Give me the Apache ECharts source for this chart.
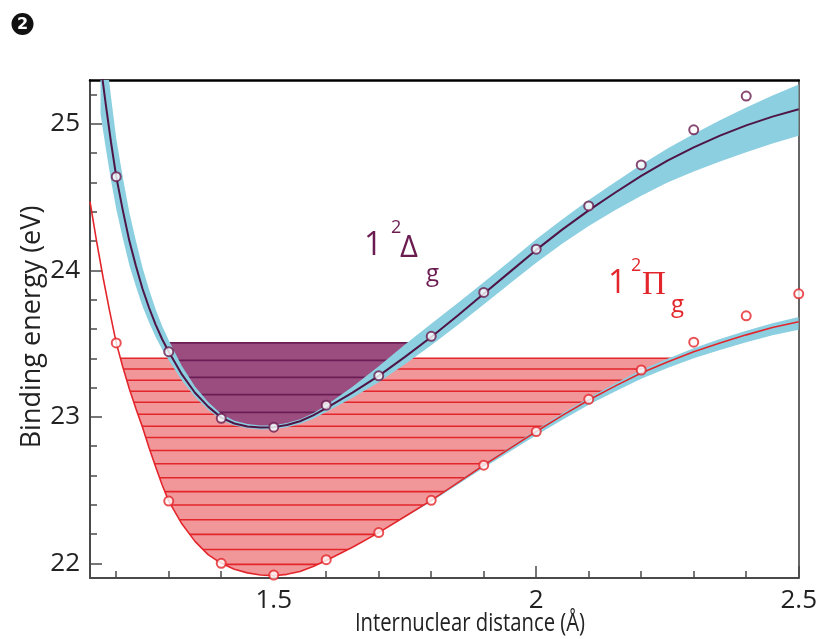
<!DOCTYPE html>
<html><head><meta charset="utf-8">
<script src="https://cdn.jsdelivr.net/npm/echarts@6/dist/echarts.min.js"></script>
<style>html,body{margin:0;padding:0;background:#fff}#c{width:820px;height:639px}</style>
</head><body><div id="c"></div>
<script>
// ---- axis ticks / labels ----
const xTickLabels = [1.5, 2, 2.5];
const xMinorTicks = [1.2, 1.3, 1.4, 1.6, 1.7, 1.8, 1.9, 2.1, 2.2, 2.3, 2.4];
const yTickLabels = [22, 23, 24, 25];
const yMinorTicks = [22.2, 22.4, 22.6, 22.8, 23.2, 23.4, 23.6, 23.8, 24.2, 24.4, 24.6, 24.8, 25.2];

// ---- computed points (open circles) ----
const deltaPointX = [1.2, 1.3, 1.4, 1.5, 1.6, 1.7, 1.8, 1.9, 2.0, 2.1, 2.2, 2.3, 2.4];
const deltaPointY = [24.64, 23.445, 22.99, 22.93, 23.08, 23.28, 23.55, 23.85, 24.145, 24.44, 24.72, 24.96, 25.19];
const piPointX = [1.2, 1.3, 1.4, 1.5, 1.6, 1.7, 1.8, 1.9, 2.0, 2.1, 2.2, 2.3, 2.4, 2.5];
const piPointY = [23.505, 22.425, 22.0, 21.92, 22.025, 22.21, 22.43, 22.67, 22.90, 23.12, 23.32, 23.51, 23.69, 23.84];

// ---- fitted curves ----
const deltaCurveX = [1.17, 1.18, 1.19, 1.2, 1.2125, 1.225, 1.2375, 1.25, 1.2625, 1.275, 1.2875, 1.3, 1.325, 1.35, 1.375, 1.4, 1.425, 1.45, 1.475, 1.5, 1.525, 1.55, 1.575, 1.6, 1.65, 1.7, 1.75, 1.8, 1.85, 1.9, 1.95, 2.0, 2.05, 2.1, 2.15, 2.2, 2.25, 2.3, 2.35, 2.4, 2.45, 2.5];
const deltaCurveY = [25.41, 25.135, 24.875, 24.64, 24.41, 24.20, 24.03, 23.875, 23.745, 23.63, 23.53, 23.445, 23.29, 23.165, 23.07, 22.995, 22.955, 22.935, 22.927, 22.93, 22.945, 22.97, 23.01, 23.06, 23.165, 23.28, 23.41, 23.545, 23.69, 23.84, 23.99, 24.14, 24.28, 24.41, 24.53, 24.645, 24.75, 24.84, 24.92, 24.99, 25.05, 25.10];
const deltaBandUp = [0.42, 0.36, 0.31, 0.26, 0.225, 0.195, 0.17, 0.145, 0.125, 0.105, 0.09, 0.078, 0.058, 0.042, 0.032, 0.024, 0.019, 0.016, 0.014, 0.013, 0.013, 0.013, 0.015, 0.02, 0.04, 0.065, 0.085, 0.09, 0.085, 0.08, 0.075, 0.072, 0.07, 0.07, 0.072, 0.077, 0.083, 0.092, 0.105, 0.122, 0.145, 0.17];
const deltaBandDn = [0.34, 0.30, 0.26, 0.22, 0.19, 0.165, 0.14, 0.12, 0.10, 0.085, 0.07, 0.058, 0.042, 0.03, 0.022, 0.017, 0.014, 0.013, 0.013, 0.014, 0.016, 0.019, 0.023, 0.027, 0.035, 0.043, 0.05, 0.056, 0.064, 0.073, 0.08, 0.088, 0.097, 0.107, 0.12, 0.135, 0.15, 0.165, 0.177, 0.183, 0.184, 0.18];

const piCurveX = [1.15, 1.1625, 1.175, 1.1875, 1.2, 1.2125, 1.225, 1.2375, 1.25, 1.2625, 1.275, 1.2875, 1.3, 1.325, 1.35, 1.375, 1.4, 1.425, 1.45, 1.475, 1.5, 1.525, 1.55, 1.575, 1.6, 1.65, 1.7, 1.75, 1.8, 1.85, 1.9, 1.95, 2.0, 2.05, 2.1, 2.15, 2.2, 2.25, 2.3, 2.35, 2.4, 2.45, 2.5];
const piCurveY = [24.47, 24.2, 23.95, 23.72, 23.505, 23.34, 23.19, 23.055, 22.93, 22.79, 22.66, 22.535, 22.425, 22.27, 22.15, 22.06, 22.0, 21.96, 21.935, 21.92, 21.915, 21.925, 21.945, 21.978, 22.02, 22.11, 22.21, 22.32, 22.43, 22.55, 22.67, 22.785, 22.9, 23.01, 23.115, 23.21, 23.3, 23.375, 23.445, 23.505, 23.56, 23.61, 23.65];
const piBandUp = [0, 0, 0, 0, 0, 0, 0, 0, 0, 0, 0, 0, 0, 0, 0, 0, 0, 0, 0, 0, 0, 0, 0, 0, 0, 0, 0, 0.002, 0.004, 0.006, 0.008, 0.01, 0.012, 0.014, 0.016, 0.018, 0.02, 0.022, 0.024, 0.026, 0.028, 0.03, 0.032];
const piBandDn = [0, 0, 0, 0, 0, 0, 0, 0, 0, 0, 0, 0, 0, 0, 0, 0, 0, 0, 0, 0, 0, 0, 0, 0, 0, 0, 0, 0.005, 0.01, 0.014, 0.018, 0.022, 0.026, 0.03, 0.033, 0.036, 0.039, 0.042, 0.045, 0.048, 0.05, 0.052, 0.055];

// ---- vibrational levels ----
const deltaTop = 23.505;
const deltaLevels = [23.505, 23.386, 23.27, 23.152, 23.031];
const piTop = 23.40;
const piLevels = [23.40, 23.327, 23.25, 23.175, 23.10, 23.018, 22.936, 22.859, 22.77, 22.68, 22.584, 22.49, 22.398, 22.298, 22.198, 22.095, 21.993];

const C = {
  purpleLine: '#4e1546', purpleText: '#6a1b4f', purpleFill: '#9c4d7f', purpleLevel: '#6a1d55',
  red: '#e3262b', redFill: '#f1979a', band: '#8bcfe0'
};
const FONT = '"Open Sans", "Noto Sans", sans-serif';

const chart = echarts.init(document.getElementById('c'), null, {renderer: 'canvas'});

function pairs(xs, ys) { return xs.map((x, i) => [x, ys[i]]); }

function regionSeries(cx, cy, top, levels, fill, lineColor, z) {
  return {
    type: 'custom', z: z, silent: true, xAxisIndex: 0, yAxisIndex: 0,
    data: [[1.5, 23]],
    renderItem: function (params, api) {
      const cs = params.coordSys;
      const pts = cx.map((x, i) => api.coord([x, cy[i]]));
      const last = pts[pts.length - 1], first = pts[0];
      pts.push([last[0] + 40, last[1]]);
      pts.push([last[0] + 40, cs.y - 50]);
      pts.push([first[0] - 40, cs.y - 50]);
      pts.push([first[0] - 40, first[1]]);
      const topPx = api.coord([cx[0], top])[1];
      const children = [{
        type: 'rect',
        shape: {x: cs.x, y: topPx, width: cs.width, height: cs.y + cs.height - topPx},
        style: {fill: fill}
      }];
      levels.forEach(function (l) {
        const yy = api.coord([cx[0], l])[1];
        children.push({type: 'line', shape: {x1: cs.x, y1: yy, x2: cs.x + cs.width, y2: yy},
          style: {stroke: lineColor, lineWidth: 1.6}});
      });
      return {type: 'group', clipPath: {type: 'polygon', shape: {points: pts}}, children: children};
    }
  };
}

function bandSeries(cx, cy, up, dn, color, z) {
  return {
    type: 'custom', z: z, silent: true, xAxisIndex: 0, yAxisIndex: 0,
    data: [[1.5, 23]],
    renderItem: function (params, api) {
      const cs = params.coordSys;
      const upper = cx.map((x, i) => api.coord([x, cy[i] + up[i]]));
      const lower = cx.map((x, i) => api.coord([x, cy[i] - dn[i]])).reverse();
      return {
        type: 'group',
        clipPath: {type: 'rect', shape: {x: cs.x, y: cs.y, width: cs.width, height: cs.height}},
        children: [{type: 'polygon', shape: {points: upper.concat(lower)}, style: {fill: color}}]
      };
    }
  };
}

const axisLabelStyle = {fontSize: 26, fontFamily: FONT, color: '#222'};

const option = {
  animation: false,
  backgroundColor: '#fff',
  grid: {left: 90, right: 19, top: 80, bottom: 61, containLabel: false},
  xAxis: [
    {type: 'value', min: 1.15, max: 2.5, position: 'bottom',
      axisLine: {show: true, onZero: false, lineStyle: {color: '#4a4a4a', width: 2}},
      axisTick: {show: true, inside: true, length: 12, customValues: xTickLabels, lineStyle: {color: '#4a4a4a', width: 1.5}},
      axisLabel: Object.assign({show: true, margin: 10, customValues: xTickLabels, formatter: v => String(v)}, axisLabelStyle),
      splitLine: {show: false}},
    {type: 'value', min: 1.15, max: 2.5, position: 'bottom',
      axisLine: {show: false},
      axisTick: {show: true, inside: true, length: 7, customValues: xMinorTicks, lineStyle: {color: '#4a4a4a', width: 1.5}},
      axisLabel: {show: false}, splitLine: {show: false}},
    {type: 'value', min: 1.15, max: 2.5, position: 'top',
      axisLine: {show: true, onZero: false, lineStyle: {color: '#000', width: 2.5}},
      axisTick: {show: false}, axisLabel: {show: false}, splitLine: {show: false}}
  ],
  yAxis: [
    {type: 'value', min: 21.9, max: 25.3, position: 'left',
      axisLine: {show: true, onZero: false, lineStyle: {color: '#4a4a4a', width: 2}},
      axisTick: {show: true, inside: true, length: 12, customValues: yTickLabels, lineStyle: {color: '#4a4a4a', width: 1.5}},
      axisLabel: Object.assign({show: true, margin: 10, customValues: yTickLabels}, axisLabelStyle),
      splitLine: {show: false}},
    {type: 'value', min: 21.9, max: 25.3, position: 'left',
      axisLine: {show: false},
      axisTick: {show: true, inside: true, length: 7, customValues: yMinorTicks, lineStyle: {color: '#4a4a4a', width: 1.5}},
      axisLabel: {show: false}, splitLine: {show: false}},
    {type: 'value', min: 21.9, max: 25.3, position: 'right',
      axisLine: {show: true, onZero: false, lineStyle: {color: '#333', width: 1.5}},
      axisTick: {show: false}, axisLabel: {show: false}, splitLine: {show: false}}
  ],
  series: [
    regionSeries(piCurveX, piCurveY, piTop, piLevels, C.redFill, C.red, 1),
    regionSeries(deltaCurveX, deltaCurveY, deltaTop, deltaLevels, C.purpleFill, C.purpleLevel, 2),
    bandSeries(deltaCurveX, deltaCurveY, deltaBandUp, deltaBandDn, C.band, 3),
    bandSeries(piCurveX, piCurveY, piBandUp, piBandDn, C.band, 3),
    {type: 'line', z: 4, data: pairs(piCurveX, piCurveY), showSymbol: false, smooth: false,
      lineStyle: {color: C.red, width: 1.6}, silent: true},
    {type: 'line', z: 4, data: pairs(deltaCurveX, deltaCurveY), showSymbol: false, smooth: false,
      lineStyle: {color: C.purpleLine, width: 2}, silent: true},
    {type: 'scatter', z: 5, data: pairs(deltaPointX, deltaPointY), symbol: 'circle', symbolSize: 9,
      itemStyle: {color: '#fff', borderColor: C.purpleText, borderWidth: 2}},
    {type: 'scatter', z: 5, data: pairs(piPointX, piPointY), symbol: 'circle', symbolSize: 9,
      itemStyle: {color: '#fff', borderColor: C.red, borderWidth: 2}}
  ],
  graphic: [
    {type: 'circle', shape: {cx: 22.5, cy: 24, r: 11}, style: {fill: '#111'}},
    {type: 'text', x: 22.5, y: 24.5, style: {text: '2', fill: '#fff', font: 'bold 16px "DejaVu Sans"', align: 'center', verticalAlign: 'middle'}},
    {type: 'text', x: 32, y: 327, rotation: Math.PI / 2,
      style: {text: 'Binding energy (eV)', fill: '#222', font: '27px ' + FONT, align: 'center', verticalAlign: 'middle'}},
    {type: 'text', x: 470, y: 624, scaleX: 0.78,
      style: {text: 'Internuclear distance (\u00C5)', fill: '#222', font: '26px ' + FONT, align: 'center', verticalAlign: 'middle'}},
    // 1²Δg
    {type: 'text', x: 364, y: 246, style: {text: '1', fill: C.purpleText, font: '32px ' + FONT, align: 'left', verticalAlign: 'middle'}},
    {type: 'text', x: 391, y: 228, style: {text: '2', fill: C.purpleText, font: '18px ' + FONT, align: 'left', verticalAlign: 'middle'}},
    {type: 'text', x: 400, y: 248, style: {text: '\u0394', fill: C.purpleText, font: '31px ' + FONT, align: 'left', verticalAlign: 'middle'}},
    {type: 'text', x: 426, y: 274, style: {text: 'g', fill: C.purpleText, font: '24px ' + FONT, align: 'left', verticalAlign: 'middle'}},
    // 1²Πg
    {type: 'text', x: 608, y: 284, style: {text: '1', fill: C.red, font: '32px ' + FONT, align: 'left', verticalAlign: 'middle'}},
    {type: 'text', x: 631, y: 266, style: {text: '2', fill: C.red, font: '18px ' + FONT, align: 'left', verticalAlign: 'middle'}},
    {type: 'text', x: 642, y: 285, style: {text: '\u03A0', fill: C.red, font: '33px "Liberation Serif", serif', align: 'left', verticalAlign: 'middle'}},
    {type: 'text', x: 671, y: 305, style: {text: 'g', fill: C.red, font: '24px ' + FONT, align: 'left', verticalAlign: 'middle'}}
  ]
};
chart.setOption(option);
</script></body></html>
